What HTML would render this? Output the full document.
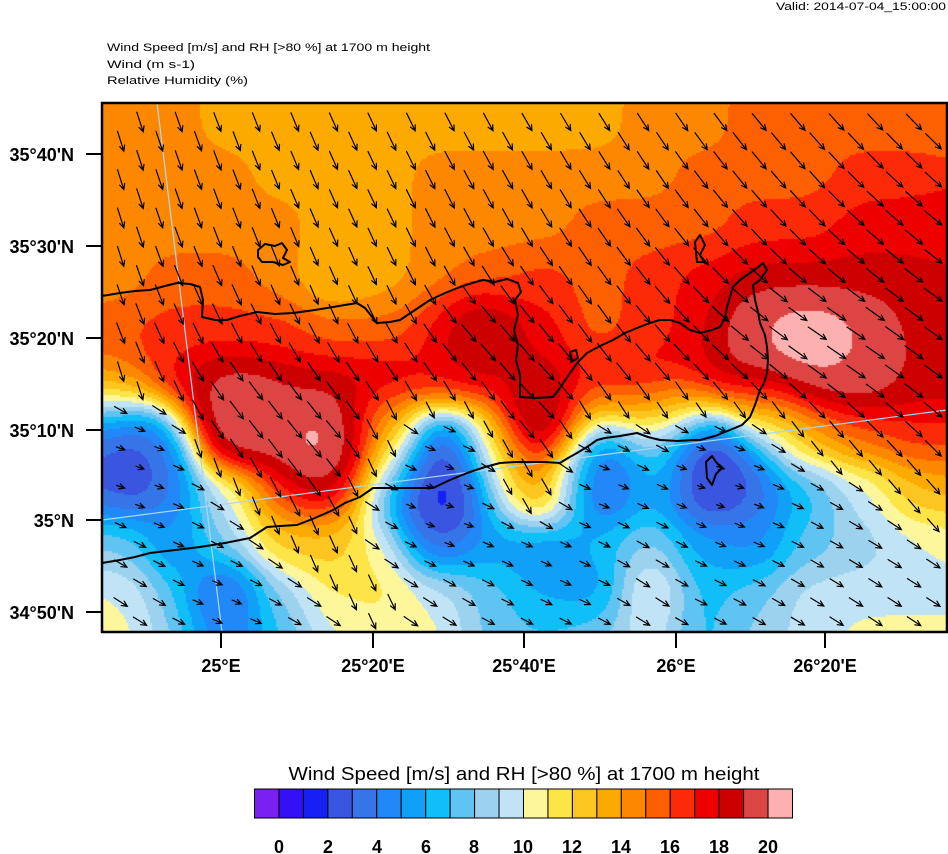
<!DOCTYPE html>
<html><head><meta charset="utf-8">
<style>
html,body{margin:0;padding:0;background:#fff;}
body{width:948px;height:854px;position:relative;overflow:hidden;font-family:"Liberation Sans",sans-serif;}
#cv{position:absolute;left:102px;top:103px;}
#ov{position:absolute;left:0;top:0;}
</style></head><body>
<canvas id="cv" width="845" height="529"></canvas>
<svg id="ov" width="948" height="854" xmlns="http://www.w3.org/2000/svg">
<text x="946" y="10" font-size="11" text-anchor="end" font-family="Liberation Sans, sans-serif" textLength="170" lengthAdjust="spacingAndGlyphs">Valid: 2014-07-04_15:00:00</text>
<text x="107" y="51" font-size="11" font-family="Liberation Sans, sans-serif" textLength="323" lengthAdjust="spacingAndGlyphs">Wind Speed [m/s] and RH [&gt;80 %] at 1700 m height</text>
<text x="107" y="68" font-size="11" font-family="Liberation Sans, sans-serif" textLength="88" lengthAdjust="spacingAndGlyphs">Wind   (m s-1)</text>
<text x="107" y="84" font-size="11" font-family="Liberation Sans, sans-serif" textLength="141" lengthAdjust="spacingAndGlyphs">Relative Humidity   (%)</text>
<g id="grid" stroke="#a8d8f0" stroke-width="1.2" fill="none">
<line x1="157" y1="103" x2="222" y2="632"/>
<line x1="102" y1="520" x2="947" y2="410"/>
</g>
<g id="coast" stroke="#000" stroke-width="2" fill="none" stroke-linejoin="round">
<polyline points="102,296 120,293 135,291 150,290 165,286 177,283 190,284 200,287 203,300 202,317 215,320 227,320 240,316 257,312 275,314 293,313 315,310 333,307 357,303 365,308 377,323 390,322 400,320 415,310 430,300 445,293 460,287 472,283 483,280 495,282 507,279 518,283 521,292 515,300 518,315 514,330 518,345 516,360 520,375 520,397 535,398 553,397 560,388 570,373 578,362 587,353 600,346 613,340 625,333 637,328 650,323 660,320 670,320 680,323 690,330 700,333 712,330 720,327 725,318 727,307 730,297 733,287 740,280 750,273 757,268 763,263 767,270 760,280 753,285 755,300 758,312 760,323 765,335 767,347 768,360 767,373 764,383 760,390 755,405 750,417 742,425 730,430 715,436 700,440 693,440 678,441 660,440 648,437 637,433 620,436 605,438 597,440 587,447 577,453 568,458 560,463 545,462 530,462 515,462 500,463 485,467 467,473 450,480 433,488 415,488 395,488 373,488 360,497 345,503 333,510 315,518 297,525 280,526 267,527 250,538 225,543 200,547 175,550 150,553 135,557 120,560 102,563"/>
<path d="M258,250 L265,244 L275,246 L282,243 L287,250 L283,258 L290,262 L283,265 L273,262 L262,262 L258,257 Z"/>
<path d="M695,242 L700,235 L705,245 L700,255 L704,262 L697,262 Z"/>
<path d="M570,352 L576,350 L578,358 L571,362 Z"/>
<path d="M706,462 L712,456 L716,462 L722,468 L716,474 L712,485 L707,478 Z"/>
</g>
<g id="arrows" stroke="#000" stroke-width="1.2" fill="none" stroke-linecap="round"></g>
<rect x="102" y="103" width="845" height="529" fill="none" stroke="#000" stroke-width="2.5"/>
<g stroke="#000" stroke-width="2">
<line x1="86" y1="154" x2="102" y2="154"/><line x1="86" y1="246" x2="102" y2="246"/>
<line x1="86" y1="338" x2="102" y2="338"/><line x1="86" y1="430" x2="102" y2="430"/>
<line x1="86" y1="520" x2="102" y2="520"/><line x1="86" y1="612" x2="102" y2="612"/>
<line x1="221" y1="632" x2="221" y2="648"/><line x1="373" y1="632" x2="373" y2="648"/>
<line x1="524" y1="632" x2="524" y2="648"/><line x1="676" y1="632" x2="676" y2="648"/>
<line x1="825" y1="632" x2="825" y2="648"/>
</g>
<g font-size="18" font-weight="bold" font-family="Liberation Sans, sans-serif" text-anchor="end">
<text x="74" y="161">35°40'N</text><text x="74" y="253">35°30'N</text>
<text x="74" y="345">35°20'N</text><text x="74" y="437">35°10'N</text>
<text x="74" y="527">35°N</text><text x="74" y="619">34°50'N</text>
</g>
<g font-size="18" font-weight="bold" font-family="Liberation Sans, sans-serif" text-anchor="middle">
<text x="221" y="672">25°E</text><text x="373" y="672">25°20'E</text>
<text x="524" y="672">25°40'E</text><text x="676" y="672">26°E</text>
<text x="825" y="672">26°20'E</text>
</g>
<text x="524" y="780" font-size="18" text-anchor="middle" font-family="Liberation Sans, sans-serif" textLength="471" lengthAdjust="spacingAndGlyphs">Wind Speed [m/s] and RH [&gt;80 %] at 1700 m height</text>
<g id="cbar"></g>
<g font-size="18" font-weight="bold" font-family="Liberation Sans, sans-serif" text-anchor="middle">
<text x="279" y="853">0</text><text x="328" y="853">2</text><text x="377" y="853">4</text>
<text x="426" y="853">6</text><text x="474" y="853">8</text><text x="523" y="853">10</text>
<text x="572" y="853">12</text><text x="621" y="853">14</text><text x="670" y="853">16</text>
<text x="719" y="853">18</text><text x="768" y="853">20</text>
</g>
</svg>
<script>
var pal=["#7a20f0","#3410f5","#1420f5","#3a55e0","#3575e8","#2288f8","#10a0f8","#10bef8","#60c4f2","#9cd2ee","#c0e4f6","#fdf69a","#fde447","#fdc520","#fdaa00","#fd8800","#fd6000","#fd2a08","#ee0000","#cc0000","#dd4444","#fdb0b0"];
var NS="http://www.w3.org/2000/svg";
var cb=document.getElementById("cbar");
var bw=(792.5-254.5)/22;
for(var i=0;i<22;i++){var r=document.createElementNS(NS,"rect");r.setAttribute("x",254.5+i*bw);r.setAttribute("y",789);r.setAttribute("width",bw);r.setAttribute("height",29);r.setAttribute("fill",pal[i]);r.setAttribute("stroke","#000");r.setAttribute("stroke-width","1");cb.appendChild(r);}
var xs=[120,173,226,279,332,385,438,491,544,597,650,703,756,809,862,915];
var rows=[
[103,[15,15,14,14,14,14,14,14,14,14,15,15,16,16,16,16]],
[120,[15,15,14,14,14,14,14,14,14,14,15,15,16,16,16,16]],
[173,[15,15,15,14,14,14,15,15,15,15,15,16,16,16,17,17]],
[226,[15,15,15,15,14,14,15,15,15,16,16,16,17,17,18,18]],
[279,[15,16,16,15,13,14,15,16,17,16,17,18,19,19,19,19]],
[332,[17,17,17,17,16,16,17,19,18,16,17,18,20,21,20,19]],
[385,[16,18,19,19,19,19,18,18,19,18,19,19,20,20,20,19]],
[438,[3,8,20,20,21,12,3,9,21,3,7,3,6,14,16,17]],
[491,[3,5,10,16,17,8,2,5,15,3,6,2,4,7,10,13]],
[544,[8,5,9,13,13,11,4,6,5,7,9,6,5,8,9,10]],
[597,[10,8,4,9,12,12,10,8,6,5,12,7,8,10,10,10]],
[632,[11,9,5,7,10,11,11,8,8,9,10,7,9,10,11,11]]];
var P=[];
rows.forEach(function(r){r[1].forEach(function(v,i){P.push([xs[i],r[0],v]);});});
[[102,120,15],[102,226,15],[102,300,15],[102,350,16],[102,385,14],[102,410,8],[102,438,4],[102,491,4],[102,544,9],[102,597,11],[102,632,11],
[947,120,16],[947,226,18],[947,332,19],[947,385,19],[947,438,17],[947,491,14],[947,544,11],[947,597,10],[947,632,11],
[140,460,2],[125,470,2],[150,445,3],[440,490,1],[445,470,2],[430,510,2],[720,470,2],[710,460,1],[600,455,3],[590,470,3],
[240,415,21],[230,412,21],[255,418,21],[320,445,21],[325,435,21],[330,455,21],[315,465,21],[280,420,20],[220,400,20],[350,420,20],
[800,340,21],[830,335,21],[770,335,21],[860,345,21],[790,355,21],[745,335,20],[880,360,20],
[540,415,21],[555,425,21],[530,425,21],[470,330,20],[480,340,20],[220,600,3],[380,420,15],[390,460,11],[500,450,12],[565,470,12],[515,480,16],[660,470,8],[645,420,14],[680,410,13],[770,420,12],[760,400,17],[580,410,16],[620,400,17]
].forEach(function(p){P.push(p);});
var s2=2*26*26;
function field(x,y){var sw=0,sv=0;for(var k=0;k<P.length;k++){var dx=x-P[k][0],dy=y-P[k][1];var d=dx*dx+dy*dy;if(d>12000)continue;var w=Math.exp(-d/s2);sw+=w;sv+=w*P[k][2];}
if(sw<1e-9){var best=1e18,bv=10;for(var k=0;k<P.length;k++){var dx=x-P[k][0],dy=y-P[k][1];var d=dx*dx+dy*dy;if(d<best){best=d;bv=P[k][2];}}return bv;}return sv/sw;}
var cv=document.getElementById("cv"),ctx=cv.getContext("2d");
var st=2;
for(var py=0;py<529;py+=st){for(var px=0;px<845;px+=st){var v=field(px+102+1,py+103+1);var idx=Math.max(0,Math.min(21,Math.round(v)));ctx.fillStyle=pal[idx];ctx.fillRect(px,py,st,st);}}
var ag=document.getElementById("arrows");
var d="";
for(var r=0;r<28;r++){var cy=122+19.2*r;if(cy>628)break;var off=(r%2==0)?0:-19.35;
for(var c=-1;c<24;c++){var cx=140+38.7*c+off;if(cx<106||cx>944)continue;
var v=field(cx,cy);
var ang;
if(v>=11){var a0=73-(cx-102)/845*25;ang=a0-(Math.max(0,v-15))*3;}else{ang=22+(v-5)*2;}
if(ang<5)ang=5;
var L=6+1.05*Math.max(0,v-1);if(L>22)L=22;
var rad=ang*Math.PI/180;var ux=Math.cos(rad),uy=Math.sin(rad);
var x1=cx-ux*L/2,y1=cy-uy*L/2,x2=cx+ux*L/2,y2=cy+uy*L/2;
if(y1<104||y2>631||x2>946)continue;
var h=6,ha=0.45;
var bx1=x2-h*(ux*Math.cos(ha)-uy*Math.sin(ha)),by1=y2-h*(uy*Math.cos(ha)+ux*Math.sin(ha));
var bx2=x2-h*(ux*Math.cos(-ha)-uy*Math.sin(-ha)),by2=y2-h*(uy*Math.cos(-ha)+ux*Math.sin(-ha));
d+="M"+x1.toFixed(1)+","+y1.toFixed(1)+"L"+x2.toFixed(1)+","+y2.toFixed(1)+"M"+bx1.toFixed(1)+","+by1.toFixed(1)+"L"+x2.toFixed(1)+","+y2.toFixed(1)+"L"+bx2.toFixed(1)+","+by2.toFixed(1);
}}
var pth=document.createElementNS(NS,"path");pth.setAttribute("d",d);ag.appendChild(pth);
</script>
</body></html>
